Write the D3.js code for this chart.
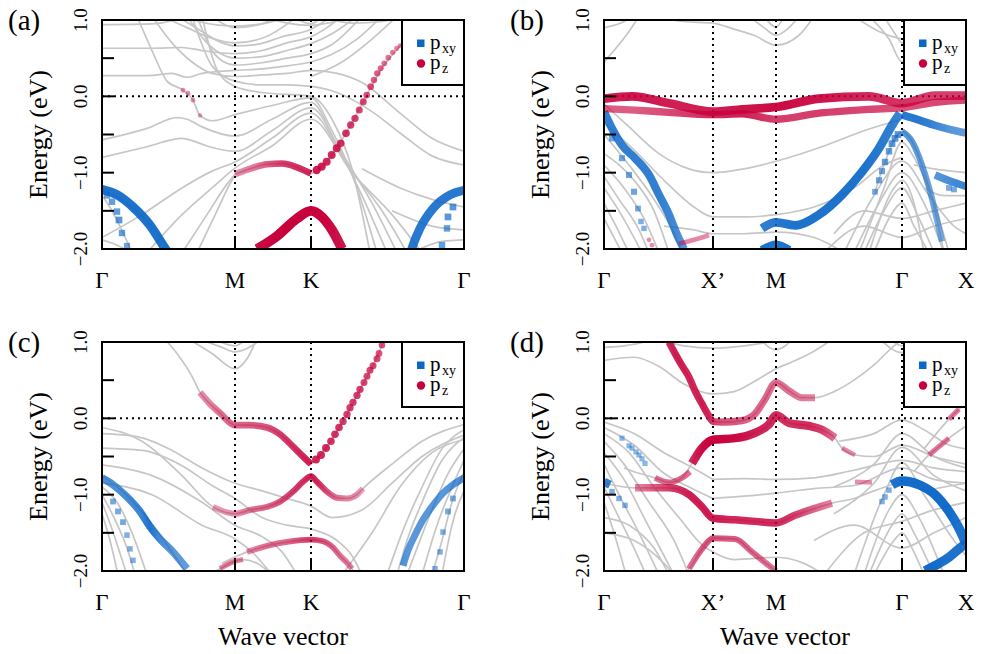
<!DOCTYPE html>
<html>
<head>
<meta charset="utf-8">
<script src="https://cdnjs.cloudflare.com/ajax/libs/d3/7.8.5/d3.min.js"></script>
<style>
  body { margin: 0; background: #fff; }
</style>
</head>
<body>
<div id="chart"></div>
<script>
(function () {

// ---- path ticks (path length, arbitrary units) ----
var hexTicks = [0, 1.33, 2.09, 3.62];
var hexNames = ["Γ", "M", "K", "Γ"];
var rectTicks = [0, 1.09, 1.72, 2.98, 3.62];
var rectNames = ["Γ", "X’", "M", "Γ", "X"];
var energyTicks = [1, 0.5, 0, -0.5, -1, -1.5, -2];
var energyLabels = { "1": "1.0", "0": "0.0", "-1": "−1.0", "-2": "−2.0" };

// ---- (a) ----
var greyA = [
  [[0,0.94],[0.5,0.95],[0.7,0.99],[0.8,1.05]],
  [[0.8,1.05],[1.0,0.97],[1.33,0.92],[1.6,0.95],[1.9,1.05]],
  [[1.6,1.05],[1.85,0.96],[2.09,0.93],[2.3,0.97],[2.5,1.05]],
  [[2.2,1.05],[2.5,0.96],[2.8,0.98],[3.0,1.05]],
  [[0.6,1.05],[0.85,0.9],[1.1,0.76],[1.33,0.70],[1.6,0.76],[1.8,0.9],[1.95,1.05]],
  [[0.75,1.05],[1.0,0.85],[1.2,0.7],[1.33,0.66],[1.55,0.68],[1.8,0.78],[2.09,0.88],[2.3,1.05]],
  [[0,0.63],[0.5,0.63],[0.8,0.64],[1.0,0.6],[1.33,0.56],[1.6,0.6],[1.85,0.7],[2.09,0.78],[2.25,0.9],[2.4,1.05]],
  [[0.85,1.05],[1.05,0.7],[1.2,0.55],[1.33,0.5],[1.6,0.52],[1.85,0.6],[2.09,0.69],[2.3,0.82],[2.55,1.05]],
  [[0.95,1.05],[1.1,0.6],[1.22,0.45],[1.33,0.41],[1.6,0.44],[1.85,0.5],[2.09,0.56],[2.3,0.68],[2.6,1.05]],
  [[0,0.27],[0.45,0.27],[0.7,0.3],[0.85,0.25],[1.0,0.3],[1.33,0.34],[1.6,0.36],[1.85,0.4],[2.09,0.45],[2.3,0.55],[2.55,0.75],[2.8,1.05]],
  [[0.5,1.05],[0.7,0.7],[0.9,0.45],[1.1,0.3],[1.33,0.26],[1.6,0.28],[1.85,0.3],[2.09,0.34],[2.35,0.3],[2.6,0.18],[2.98,-0.22],[3.3,-0.55],[3.62,-0.72]],
  [[0.35,1.05],[0.5,0.6],[0.65,0.2],[0.81,0.08],[0.91,-0.05],[0.98,-0.25],[1.1,-0.32],[1.33,-0.24],[1.7,-0.12],[2.09,-0.02],[2.3,-0.45],[2.55,-1.2],[2.75,-2.05]],
  [[0.9,1.05],[1.1,0.4],[1.33,0.2],[1.6,0.15],[1.85,0.15],[2.09,0.13],[2.35,0.05],[2.7,-0.2],[3.0,-0.5],[3.3,-0.78],[3.62,-0.9]],
  [[1.0,1.05],[1.15,0.35],[1.33,0.13],[1.6,0.05],[2.09,0.0],[2.3,-0.3],[2.5,-0.95],[2.68,-2.05]],
  [[1.1,1.05],[1.33,0.9],[1.6,0.95],[1.75,1.05]],
  [[1.9,1.05],[2.09,0.95],[2.2,1.05]],
  [[2.09,0.26],[2.4,0.45],[2.7,0.75],[2.95,1.05]],
  [[0,-0.57],[0.45,-0.42],[0.75,-0.28],[0.85,-0.3],[1.0,-0.4],[1.33,-0.52],[1.7,-0.3],[2.09,-0.08],[2.35,-0.65],[2.6,-1.3],[2.85,-2.05]],
  [[0,-0.8],[0.45,-0.66],[0.8,-0.55],[0.9,-0.58],[1.05,-0.65],[1.33,-0.72],[1.7,-0.45],[2.09,-0.15],[2.4,-0.75],[2.7,-1.4],[2.95,-2.05]],
  [[0,-1.85],[0.4,-1.55],[0.8,-1.2],[1.1,-0.98],[1.33,-0.86],[1.7,-0.55],[2.09,-0.22],[2.45,-0.9],[2.8,-1.5],[3.05,-2.05]],
  [[0.45,-2.05],[0.8,-1.55],[1.1,-1.2],[1.33,-0.94],[1.7,-0.65],[2.09,-0.3],[2.5,-1.0],[2.9,-1.55],[3.2,-2.05]],
  [[0.8,-2.05],[1.05,-1.55],[1.25,-1.15],[1.33,-1.02]],
  [[0.95,-2.05],[1.15,-1.5],[1.3,-1.1],[1.33,-1.04]],
  [[1.33,-1.02],[1.5,-0.94],[1.65,-0.89],[1.8,-0.88],[1.95,-0.93],[2.09,-1.01],[2.25,-0.85],[2.45,-0.46],[2.65,0.02],[2.8,0.37],[2.98,0.66],[3.2,1.05]],
  [[1.5,-2.1],[1.75,-1.85],[1.95,-1.6],[2.09,-1.5],[2.2,-1.58],[2.3,-1.75],[2.42,-2.05]],
  [[2.6,-0.95],[2.98,-1.2],[3.3,-1.35],[3.62,-1.45]],
  [[2.9,-1.5],[3.3,-1.7],[3.62,-1.75]],
  [[3.1,-2.05],[3.4,-1.9],[3.62,-1.88]],
  [[0,-1.22],[0.25,-1.4],[0.5,-1.7],[0.7,-2.05]],
  [[0,-1.3],[0.1,-1.5],[0.25,-1.9],[0.3,-2.05]],
  [[0,-1.88],[0.15,-1.95],[0.3,-2.05]]
];
var pzLinesA = [
  [[1.33,-1.02,0.3],[1.5,-0.94,0.4],[1.65,-0.89,0.55],[1.8,-0.88,0.7],[1.95,-0.93,0.75],[2.09,-1.01,0.8]],
  [[1.55,-2.0,0.95],[1.75,-1.83,1],[1.95,-1.6,1],[2.09,-1.5,1],[2.2,-1.58,1],[2.3,-1.75,0.95],[2.4,-2.0,0.9]]
];
var pzMarksA = [
  [2.147,-0.965,0.85],[2.197,-0.921,0.85],[2.247,-0.856,0.8],[2.297,-0.769,0.8],[2.347,-0.681,0.8],
  [2.387,-0.616,0.75],[2.44,-0.485,0.75],[2.487,-0.376,0.7],[2.53,-0.288,0.7],[2.573,-0.179,0.65],
  [2.613,-0.07,0.65],[2.647,0.017,0.6],[2.687,0.127,0.6],[2.72,0.214,0.55],[2.753,0.301,0.55],
  [2.787,0.367,0.5],[2.823,0.432,0.45],[2.863,0.507,0.45],[2.907,0.576,0.4],[2.947,0.629,0.35],[2.98,0.664,0.3],
  [0.81,0.08,0.3],[0.86,0.04,0.3],[0.91,-0.05,0.3],[0.98,-0.25,0.25]
];
var pxyLinesA = [
  [[0,-1.22,0.9],[0.15,-1.29,0.9],[0.31,-1.45,0.9],[0.48,-1.69,0.9],[0.61,-1.95,0.9],[0.65,-2.03,0.9]],
  [[3.09,-2.03,0.85],[3.11,-1.95,0.85],[3.18,-1.73,0.85],[3.31,-1.47,0.85],[3.48,-1.29,0.85],[3.62,-1.23,0.85]]
];
var pxyMarksA = [
  [0.05,-1.3,0.5],[0.1,-1.38,0.55],[0.15,-1.51,0.55],[0.17,-1.62,0.6],[0.2,-1.79,0.55],[0.25,-1.96,0.5],
  [3.51,-1.45,0.6],[3.46,-1.58,0.6],[3.45,-1.73,0.55],[3.40,-1.95,0.55]
];

// ---- (b) ----
var greyB = [
  [[0,0.45],[0.1,0.6],[0.25,0.85],[0.35,1.05]],
  [[0,0.9],[0.15,0.95],[0.3,1.05]],
  [[0.5,1.05],[0.8,0.98],[1.09,0.96],[1.3,0.88],[1.5,0.8],[1.72,0.67],[1.95,0.8],[2.1,1.05]],
  [[1.45,1.05],[1.6,0.9],[1.72,0.8],[1.85,0.9],[1.95,1.05]],
  [[1.6,1.05],[1.72,0.91],[1.8,1.05]],
  [[2.5,1.05],[2.75,0.85],[2.98,0.75],[3.2,0.72],[3.62,0.7]],
  [[2.65,1.05],[2.85,0.75],[2.98,0.45],[3.1,0.6],[3.3,0.85],[3.45,1.05]],
  [[2.8,1.05],[2.92,0.8],[2.98,0.7],[3.15,0.9],[3.3,1.05]],
  [[0,-0.1],[0.25,-0.4],[0.55,-0.75],[0.85,-0.95],[1.09,-1.0],[1.4,-0.95],[1.72,-0.85],[2.2,-0.65],[2.6,-0.45],[2.98,-0.3]],
  [[0,-0.35],[0.3,-0.7],[0.6,-1.1],[0.9,-1.45],[1.09,-1.58],[1.4,-1.58],[1.72,-1.55],[2.1,-1.45],[2.5,-1.2],[2.8,-0.9],[2.98,-0.8]],
  [[0.6,-1.7],[0.9,-1.75],[1.09,-1.8],[1.4,-1.8],[1.72,-1.78],[2.1,-1.85],[2.4,-2.05]],
  [[0,-0.9],[0.2,-1.2],[0.4,-1.6],[0.55,-2.05]],
  [[0,-1.05],[0.15,-1.35],[0.35,-1.75],[0.45,-2.05]],
  [[0,-1.2],[0.15,-1.5],[0.3,-1.85],[0.38,-2.05]],
  [[0,-1.4],[0.12,-1.7],[0.25,-2.05]],
  [[0,-1.6],[0.1,-1.85],[0.18,-2.05]],
  [[0,-0.75],[0.3,-1.1],[0.5,-1.5],[0.65,-2.05]],
  [[0,-0.5],[0.25,-0.9],[0.5,-1.35],[0.7,-1.8],[0.78,-2.05]],
  [[2.5,-2.05],[2.75,-1.4],[2.98,-1.0],[3.2,-1.4],[3.4,-2.05]],
  [[2.6,-2.05],[2.8,-1.5],[2.98,-1.2],[3.15,-1.6],[3.3,-2.05]],
  [[2.7,-2.05],[2.85,-1.6],[2.98,-1.4],[3.1,-1.7],[3.25,-2.05]],
  [[2.4,-2.05],[2.7,-1.3],[2.98,-0.85],[3.25,-1.3],[3.5,-1.7],[3.62,-1.8]],
  [[2.3,-1.8],[2.6,-1.5],[2.98,-1.6],[3.3,-1.5],[3.62,-1.4]],
  [[2.2,-2.05],[2.6,-1.7],[2.98,-1.85],[3.3,-1.7],[3.62,-1.6]],
  [[3.1,-0.9],[3.3,-0.95],[3.62,-1.0]],
  [[3.2,-1.2],[3.4,-1.3],[3.62,-1.3]],
  [[2.55,-2.05],[2.8,-1.2],[2.98,-0.6],[3.1,-0.8],[3.3,-1.4],[3.45,-2.05]],
  [[2.65,-2.05],[2.9,-1.2],[2.98,-1.1],[3.1,-1.4],[3.2,-2.05]],
  [[2.71,-1.25],[2.81,-0.86],[2.91,-0.55],[2.98,-0.46],[3.08,-0.59],[3.18,-0.9],[3.28,-1.34],[3.35,-1.73],[3.4,-2.05]]
];
var pzLinesB = [
  [[0,-0.03,0.85],[0.28,0.0,0.9],[0.65,-0.09,0.85],[1.09,-0.2,0.85],[1.38,-0.17,0.9],[1.72,-0.14,0.95],[2.15,-0.03,0.9],[2.65,0.0,0.8],[2.98,-0.09,0.75],[3.31,0.01,0.7],[3.62,0.01,0.7]],
  [[0,-0.16,0.55],[0.31,-0.18,0.55],[0.65,-0.21,0.65],[1.09,-0.24,0.8],[1.38,-0.23,0.85],[1.72,-0.3,0.7],[2.15,-0.22,0.7],[2.65,-0.17,0.65],[2.98,-0.15,0.6],[3.31,-0.08,0.65],[3.62,-0.05,0.65]],
  [[0.75,-1.93,0.35],[0.9,-1.88,0.35],[1.05,-1.82,0.3]]
];
var pzMarksB = [[0.45,-1.88,0.3],[0.48,-1.95,0.3]];
var pxyLinesB = [
  [[0,-0.2,0.8],[0.08,-0.42,0.8],[0.18,-0.64,0.8],[0.31,-0.81,0.8],[0.45,-1.03,0.8],[0.55,-1.29,0.8],[0.65,-1.55,0.75],[0.73,-1.81,0.7],[0.8,-2.0,0.6]],
  [[1.58,-1.73,0.8],[1.72,-1.65,0.85],[1.91,-1.69,0.9],[2.15,-1.55,0.9],[2.38,-1.29,0.9],[2.58,-0.99,0.9],[2.75,-0.68,0.85],[2.88,-0.38,0.8],[2.96,-0.22,0.75]],
  [[2.98,-0.24,0.85],[3.15,-0.31,0.85],[3.31,-0.38,0.75],[3.48,-0.44,0.6],[3.62,-0.48,0.55]],
  [[2.98,-0.46,0.6],[3.08,-0.59,0.6],[3.18,-0.9,0.55],[3.28,-1.34,0.5],[3.35,-1.73,0.45],[3.38,-1.9,0.45]],
  [[3.31,-1.03,0.6],[3.48,-1.12,0.7],[3.62,-1.18,0.75]],
  [[1.58,-2.02,0.9],[1.72,-1.95,0.9],[1.85,-2.02,0.9]]
];
var pxyMarksB = [
  [2.71,-1.25,0.45],[2.75,-1.1,0.5],[2.78,-0.98,0.5],[2.81,-0.86,0.55],[2.85,-0.72,0.55],[2.88,-0.62,0.6],[2.91,-0.55,0.6],[2.94,-0.5,0.6],
  [0.08,-0.55,0.5],[0.18,-0.81,0.5],[0.25,-1.03,0.5],[0.3,-1.25,0.5],[0.34,-1.47,0.45],[0.37,-1.64,0.4],[0.4,-1.73,0.4],
  [3.45,-1.2,0.45],[3.5,-1.22,0.45]
];

// ---- (c) ----
var greyC = [
  [[0.62,1.05],[0.75,0.85],[0.9,0.55],[0.98,0.34],[1.08,0.19],[1.18,0.07],[1.33,-0.09],[1.48,-0.09],[1.65,-0.12],[1.78,-0.21],[1.91,-0.37],[2.01,-0.5],[2.09,-0.6],[2.14,-0.54],[2.24,-0.39],[2.33,-0.21],[2.45,0.05],[2.58,0.38],[2.71,0.69],[2.8,0.96],[2.83,1.05]],
  [[0.85,1.05],[1.1,0.85],[1.33,0.65],[1.45,0.78],[1.55,1.05]],
  [[0.95,1.05],[1.2,0.93],[1.33,0.87],[1.5,0.95],[1.6,1.05]],
  [[1.1,1.05],[1.33,0.95],[1.45,1.05]],
  [[0,-0.12],[0.4,-0.3],[0.8,-0.75],[1.11,-1.16],[1.33,-1.25],[1.48,-1.2],[1.65,-1.16],[1.78,-1.09],[1.91,-0.96],[2.01,-0.83],[2.09,-0.76],[2.15,-0.83],[2.25,-0.96],[2.35,-1.04],[2.45,-1.05],[2.55,-1.0],[2.61,-0.92],[2.9,-0.6],[3.2,-0.3],[3.62,-0.08]],
  [[1.2,-1.9],[1.45,-1.75],[1.65,-1.67],[1.85,-1.62],[2.09,-1.59],[2.21,-1.61],[2.31,-1.69],[2.38,-1.8],[2.45,-1.89],[2.5,-1.97],[2.55,-2.05]],
  [[1.05,-2.05],[1.18,-1.97],[1.31,-1.88],[1.41,-1.85],[1.55,-1.9],[1.7,-2.05]],
  [[0,-0.2],[0.35,-0.24],[0.7,-0.42],[1.0,-0.65],[1.33,-0.85],[1.6,-0.95],[1.85,-1.05],[2.09,-1.15],[2.3,-1.3],[2.6,-1.2],[2.9,-0.85],[3.2,-0.5],[3.62,-0.22]],
  [[0,-0.39],[0.4,-0.42],[0.8,-0.62],[1.1,-0.88],[1.33,-1.05],[1.6,-1.3],[1.85,-1.4],[2.09,-1.45],[2.35,-1.6],[2.5,-1.8],[2.6,-2.05]],
  [[0,-0.61],[0.5,-0.75],[1.0,-1.1],[1.33,-1.4],[1.6,-1.55],[1.8,-1.75],[1.95,-2.05]],
  [[0,-0.85],[0.5,-1.0],[1.0,-1.4],[1.33,-1.58],[1.5,-1.75],[1.7,-2.05]],
  [[0,-0.9],[0.15,-1.1],[0.3,-1.5],[0.45,-2.05]],
  [[0,-1.0],[0.12,-1.3],[0.25,-1.7],[0.33,-2.05]],
  [[0,-1.1],[0.1,-1.45],[0.2,-1.85],[0.25,-2.05]],
  [[0,-1.25],[0.08,-1.6],[0.16,-2.05]],
  [[0,-0.75],[0.2,-0.95],[0.45,-1.3],[0.7,-1.75],[0.85,-2.05]],
  [[2.85,-2.05],[3.0,-1.5],[3.2,-0.9],[3.4,-0.4],[3.62,-0.15]],
  [[2.95,-2.05],[3.05,-1.6],[3.2,-1.1],[3.4,-0.55],[3.62,-0.25]],
  [[3.05,-2.05],[3.15,-1.7],[3.3,-1.2],[3.45,-0.75],[3.62,-0.4]],
  [[3.2,-2.05],[3.35,-1.4],[3.5,-0.9],[3.62,-0.55]],
  [[3.3,-2.05],[3.4,-1.6],[3.5,-1.1],[3.62,-0.7]],
  [[3.4,-2.05],[3.45,-1.7],[3.52,-1.3],[3.62,-0.95]],
  [[2.4,-2.05],[2.7,-1.5],[2.98,-0.9],[3.3,-0.45],[3.62,-0.28]]
];
var pzLinesC = [
  [[0.98,0.34,0.3],[1.08,0.19,0.35],[1.18,0.07,0.45],[1.33,-0.09,0.5],[1.48,-0.09,0.55],[1.65,-0.12,0.6],[1.78,-0.21,0.7],[1.91,-0.37,0.75],[2.01,-0.5,0.8],[2.09,-0.6,0.85]],
  [[1.11,-1.16,0.25],[1.33,-1.25,0.3],[1.48,-1.2,0.45],[1.65,-1.16,0.5],[1.78,-1.09,0.6],[1.91,-0.96,0.7],[2.01,-0.83,0.75],[2.09,-0.76,0.85],[2.15,-0.83,0.8],[2.25,-0.96,0.6],[2.35,-1.04,0.45],[2.45,-1.05,0.35],[2.55,-1.0,0.3],[2.61,-0.92,0.2]],
  [[1.45,-1.75,0.35],[1.65,-1.67,0.45],[1.85,-1.62,0.5],[2.09,-1.59,0.7],[2.21,-1.61,0.6],[2.31,-1.69,0.5],[2.38,-1.8,0.45],[2.45,-1.89,0.4],[2.5,-1.97,0.35]],
  [[1.18,-1.97,0.4],[1.31,-1.88,0.4],[1.41,-1.85,0.35]]
];
var pzMarksC = [
  [2.14,-0.54,0.8],[2.19,-0.48,0.8],[2.24,-0.39,0.8],[2.29,-0.30,0.75],[2.33,-0.21,0.75],[2.37,-0.12,0.75],
  [2.41,-0.04,0.7],[2.45,0.05,0.7],[2.48,0.14,0.7],[2.51,0.21,0.7],[2.55,0.30,0.7],[2.58,0.38,0.7],
  [2.62,0.47,0.65],[2.65,0.55,0.65],[2.68,0.63,0.65],[2.71,0.69,0.65],[2.75,0.78,0.65],[2.77,0.85,0.6],[2.80,0.96,0.6]
];
var pxyLinesC = [
  [[0,-0.78,0.65],[0.11,-0.87,0.65],[0.25,-1.03,0.7],[0.38,-1.22,0.75],[0.48,-1.42,0.9],[0.58,-1.58,0.7],[0.71,-1.75,0.6],[0.85,-1.97,0.55]],
  [[3.01,-1.93,0.65],[3.06,-1.73,0.6],[3.13,-1.53,0.6],[3.21,-1.33,0.6],[3.31,-1.14,0.6],[3.41,-0.98,0.6],[3.51,-0.87,0.65],[3.62,-0.78,0.65]]
];
var pxyMarksC = [
  [0.11,-1.09,0.45],[0.16,-1.22,0.45],[0.21,-1.36,0.45],[0.25,-1.53,0.4],[0.28,-1.71,0.4],[0.31,-1.86,0.4],
  [3.51,-1.05,0.45],[3.46,-1.22,0.45],[3.41,-1.49,0.4],[3.38,-1.75,0.4],[3.33,-1.97,0.4]
];

// ---- (d) ----
var greyD = [
  [[0,0.93],[0.2,0.95],[0.4,1.0],[0.5,1.05]],
  [[0,0.76],[0.3,0.8],[0.55,0.68],[0.8,0.45],[1.09,0.32],[1.3,0.35],[1.5,0.48],[1.72,0.65],[1.9,0.75],[2.1,0.88],[2.3,1.05]],
  [[0.5,1.05],[0.8,0.95],[1.09,0.92],[1.4,0.95],[1.72,1.02],[1.8,1.05]],
  [[1.55,1.05],[1.72,0.9],[1.9,1.05]],
  [[0.6,1.1],[0.65,1.0],[0.71,0.85],[0.78,0.69],[0.85,0.54],[0.91,0.36],[0.98,0.19],[1.05,0.03],[1.09,-0.04],[1.18,-0.05],[1.38,-0.03],[1.51,0.06],[1.61,0.25],[1.72,0.47],[1.85,0.36],[1.98,0.27],[2.11,0.27],[2.3,0.35],[2.5,0.5],[2.7,0.7],[2.9,0.95],[3.0,1.05]],
  [[0.2,-0.65],[0.35,-0.72],[0.51,-0.78],[0.65,-0.84],[0.78,-0.78],[0.88,-0.59],[0.98,-0.39],[1.09,-0.28],[1.31,-0.26],[1.51,-0.19],[1.65,-0.08],[1.72,0.04],[1.85,-0.06],[2.05,-0.1],[2.18,-0.15],[2.31,-0.26],[2.38,-0.39],[2.51,-0.48],[2.7,-0.5],[2.98,-0.35],[3.3,-0.5],[3.62,-0.6]],
  [[0,-0.85],[0.31,-0.91],[0.65,-0.91],[0.85,-1.0],[0.98,-1.16],[1.09,-1.31],[1.31,-1.33],[1.51,-1.35],[1.72,-1.37],[1.91,-1.27],[2.11,-1.18],[2.28,-1.11],[2.5,-1.05],[2.7,-0.95],[2.88,-0.87]],
  [[0.75,-2.05],[0.85,-1.97],[0.98,-1.71],[1.09,-1.57],[1.31,-1.58],[1.48,-1.75],[1.65,-1.93],[1.72,-2.0],[1.8,-2.05]],
  [[1.09,-0.8],[1.4,-0.79],[1.72,-0.8],[2.1,-0.78],[2.5,-0.68],[2.98,-0.55],[3.3,-0.65],[3.62,-0.7]],
  [[1.09,-1.05],[1.4,-1.02],[1.72,-0.98],[2.1,-0.92],[2.5,-0.88],[2.98,-0.65],[3.3,-0.8],[3.62,-0.85]],
  [[0,-0.05],[0.3,-0.2],[0.6,-0.45],[0.85,-0.62],[1.09,-0.8]],
  [[0,-0.12],[0.3,-0.35],[0.6,-0.72],[0.85,-0.9],[1.09,-1.05]],
  [[0,-0.2],[0.25,-0.45],[0.5,-0.9],[0.75,-1.3],[1.0,-1.68],[1.09,-1.75],[1.3,-1.85],[1.72,-1.82],[2.0,-1.9],[2.2,-2.05]],
  [[0,-0.3],[0.2,-0.6],[0.45,-1.1],[0.7,-1.6],[0.85,-2.05]],
  [[0,-0.45],[0.2,-0.8],[0.4,-1.3],[0.6,-1.8],[0.7,-2.05]],
  [[0,-0.6],[0.15,-1.0],[0.35,-1.5],[0.55,-2.05]],
  [[0,-0.9],[0.15,-1.3],[0.3,-1.7],[0.42,-2.05]],
  [[0,-1.1],[0.1,-1.5],[0.22,-2.05]],
  [[0,-1.3],[0.25,-1.4],[0.5,-1.7],[0.65,-2.05]],
  [[0,-1.5],[0.3,-1.6],[0.6,-1.9],[0.7,-2.05]],
  [[2.35,-0.3],[2.7,-0.2],[2.98,-0.02],[3.2,-0.15],[3.45,-0.35],[3.62,-0.4]],
  [[2.3,-0.9],[2.7,-0.6],[2.98,-0.2],[3.3,-0.5],[3.62,-0.65]],
  [[2.3,-1.25],[2.7,-0.85],[2.98,-0.38],[3.3,-0.75],[3.62,-0.95]],
  [[2.5,-2.05],[2.8,-1.0],[2.98,-0.58],[3.2,-1.0],[3.5,-1.6],[3.62,-1.8]],
  [[2.6,-2.05],[2.85,-1.2],[2.98,-1.0],[3.15,-1.3],[3.4,-2.05]],
  [[2.65,-2.05],[2.88,-1.4],[2.98,-1.25],[3.1,-1.5],[3.3,-2.05]],
  [[2.7,-2.05],[2.9,-1.6],[2.98,-1.5],[3.08,-1.7],[3.2,-2.05]],
  [[2.2,-2.05],[2.6,-1.5],[2.98,-1.35],[3.3,-1.2],[3.62,-1.1]],
  [[2.1,-1.6],[2.5,-1.4],[2.98,-1.7],[3.3,-1.5],[3.62,-1.3]],
  [[3.2,-0.95],[3.4,-0.9],[3.62,-0.85]],
  [[2.75,1.05],[2.98,0.86],[3.2,1.05]],
  [[2.85,1.05],[2.98,0.95],[3.1,1.05]],
  [[3.1,-0.7],[3.25,-0.48],[3.35,-0.37],[3.45,-0.26],[3.62,-0.1]],
  [[3.2,-0.4],[3.45,-0.01],[3.55,0.12],[3.62,0.2]]
];
var pzLinesD = [
  [[0.65,1.0,0.8],[0.71,0.85,0.85],[0.78,0.69,0.85],[0.85,0.54,0.8],[0.91,0.36,0.8],[0.98,0.19,0.85],[1.05,0.03,0.8],[1.09,-0.04,0.7],[1.18,-0.05,0.6],[1.38,-0.03,0.55],[1.51,0.06,0.5],[1.61,0.25,0.5],[1.72,0.47,0.45],[1.85,0.36,0.45],[1.98,0.27,0.4],[2.11,0.27,0.35]],
  [[0.88,-0.59,0.8],[0.98,-0.39,0.95],[1.09,-0.28,1],[1.31,-0.26,0.95],[1.51,-0.19,0.85],[1.65,-0.08,0.8],[1.72,0.04,0.8],[1.85,-0.06,0.75],[2.05,-0.1,0.8],[2.18,-0.15,0.7],[2.31,-0.26,0.45]],
  [[0.51,-0.78,0.45],[0.65,-0.84,0.5],[0.78,-0.78,0.5],[0.86,-0.7,0.45]],
  [[0.31,-0.91,0.35],[0.65,-0.91,0.7],[0.85,-1.0,0.85],[0.98,-1.16,0.85],[1.09,-1.31,0.85],[1.31,-1.33,0.8],[1.51,-1.35,0.8],[1.72,-1.37,0.8],[1.91,-1.27,0.7],[2.11,-1.18,0.5],[2.28,-1.11,0.35]],
  [[0.85,-1.97,0.45],[0.98,-1.71,0.55],[1.09,-1.57,0.6],[1.31,-1.58,0.55],[1.48,-1.75,0.5],[1.65,-1.93,0.45],[1.72,-2.0,0.45]],
  [[2.38,-0.39,0.35],[2.51,-0.48,0.3]],
  [[2.51,-0.83,0.3],[2.68,-0.84,0.3]],
  [[3.25,-0.48,0.4],[3.35,-0.37,0.4],[3.45,-0.26,0.4]],
  [[3.45,-0.01,0.4],[3.55,0.12,0.4]]
];
var pzMarksD = [];
var pxyLinesD = [
  [[2.88,-0.87,0.9],[2.98,-0.82,0.95],[3.15,-0.87,0.95],[3.31,-1.0,0.95],[3.45,-1.22,0.95],[3.55,-1.44,0.9],[3.62,-1.64,0.9]],
  [[3.21,-2.0,0.95],[3.31,-1.93,0.95],[3.45,-1.82,0.9],[3.55,-1.71,0.9],[3.62,-1.64,0.9]],
  [[0,-0.83,0.8],[0.06,-0.87,0.8]]
];
var pxyMarksD = [
  [2.85,-0.94,0.4],[2.81,-1.03,0.4],[2.78,-1.09,0.4],
  [0.08,-0.96,0.4],[0.15,-1.05,0.4],[0.21,-1.14,0.4],
  [0.18,-0.26,0.35],[0.25,-0.36,0.35],[0.28,-0.39,0.35],[0.32,-0.44,0.35],[0.35,-0.48,0.35],[0.38,-0.53,0.35],[0.41,-0.59,0.35]
];

var panels = [
  { label: "(a)", col: 0, row: 0, ticks: hexTicks, names: hexNames, grey: greyA, pzL: pzLinesA, pzM: pzMarksA, pxyL: pxyLinesA, pxyM: pxyMarksA },
  { label: "(b)", col: 1, row: 0, ticks: rectTicks, names: rectNames, grey: greyB, pzL: pzLinesB, pzM: pzMarksB, pxyL: pxyLinesB, pxyM: pxyMarksB },
  { label: "(c)", col: 0, row: 1, ticks: hexTicks, names: hexNames, grey: greyC, pzL: pzLinesC, pzM: pzMarksC, pxyL: pxyLinesC, pxyM: pxyMarksC },
  { label: "(d)", col: 1, row: 1, ticks: rectTicks, names: rectNames, grey: greyD, pzL: pzLinesD, pzM: pzMarksD, pxyL: pxyLinesD, pxyM: pxyMarksD }
];

var blue = "#0a66c8", red = "#c8003c", grey = "#c6c6c6";
var colX = [102, 604], rowY = [20, 342];
var width = 362, height = 229;

var svg = d3.select("#chart").append("svg")
    .attr("width", 982).attr("height", 654);

// every label goes through here so the serif face sits on the element itself
function label(parent, size) {
  return parent.append("text")
    .style("font-family", "'Liberation Serif'")
    .style("font-size", size + "px");
}

var op = d3.scaleLinear().domain([0, 1]).range([0.2, 1]);
var thick = d3.scaleLinear().domain([0, 1]).range([2, 10]);
var rad = d3.scaleLinear().domain([0, 1]).range([1.5, 4.6]);

panels.forEach(function (p, i) {
  var x = d3.scaleLinear().domain([0, 3.62]).range([0, width]);
  var y = d3.scaleLinear().domain([-2, 1]).range([height, 0]);

  var g = svg.append("g")
      .attr("transform", "translate(" + colX[p.col] + "," + rowY[p.row] + ")");

  var defs = g.append("defs");
  defs.append("clipPath").attr("id", "clip" + i)
    .append("rect").attr("width", width).attr("height", height);

  var plot = g.append("g").attr("clip-path", "url(#clip" + i + ")");

  var line = d3.line()
      .x(function (d) { return x(d[0]); })
      .y(function (d) { return y(d[1]); })
      .curve(d3.curveMonotoneX);

  // grey bands
  plot.append("g").selectAll("path")
    .data(p.grey)
    .enter().append("path")
    .attr("d", function (d) { return line(d.slice().sort(function (a, b) { return a[0] - b[0]; })); })
    .attr("fill", "none")
    .attr("stroke", grey)
    .attr("stroke-width", 1.7);

  // dotted guides
  p.ticks.slice(1, -1).forEach(function (t) {
    plot.append("line")
      .attr("x1", x(t)).attr("x2", x(t)).attr("y1", 0).attr("y2", height)
      .attr("stroke", "#000").attr("stroke-width", 2).attr("stroke-dasharray", "2,4");
  });
  plot.append("line")
    .attr("x1", 0).attr("x2", width).attr("y1", y(0)).attr("y2", y(0))
    .attr("stroke", "#000").attr("stroke-width", 2).attr("stroke-dasharray", "2,4");

  function ribbons(list, color, tag) {
    list.forEach(function (pts, j) {
      var s = pts.slice().sort(function (a, b) { return a[0] - b[0]; });
      var k0 = s[0][0], k1 = s[s.length - 1][0];
      var id = "gr" + i + tag + j;
      var grad = defs.append("linearGradient").attr("id", id)
          .attr("gradientUnits", "userSpaceOnUse")
          .attr("x1", x(k0)).attr("x2", x(k1)).attr("y1", 0).attr("y2", 0);
      s.forEach(function (d) {
        grad.append("stop")
          .attr("offset", (d[0] - k0) / (k1 - k0))
          .attr("stop-color", color)
          .attr("stop-opacity", op(d[2]));
      });
      plot.append("path")
        .attr("d", line(s))
        .attr("fill", "none")
        .attr("stroke", "url(#" + id + ")")
        .attr("stroke-width", thick(d3.mean(s, function (d) { return d[2]; })));
    });
  }

  ribbons(p.pxyL, blue, "b");
  plot.append("g").selectAll("rect")
    .data(p.pxyM)
    .enter().append("rect")
    .attr("x", function (d) { return x(d[0]) - rad(d[2]); })
    .attr("y", function (d) { return y(d[1]) - rad(d[2]); })
    .attr("width", function (d) { return 2 * rad(d[2]); })
    .attr("height", function (d) { return 2 * rad(d[2]); })
    .attr("fill", blue)
    .attr("fill-opacity", function (d) { return op(d[2]); });

  ribbons(p.pzL, red, "r");
  plot.append("g").selectAll("circle")
    .data(p.pzM)
    .enter().append("circle")
    .attr("cx", function (d) { return x(d[0]); })
    .attr("cy", function (d) { return y(d[1]); })
    .attr("r", function (d) { return rad(d[2]); })
    .attr("fill", red)
    .attr("fill-opacity", function (d) { return op(d[2]); });

  // ticks
  energyTicks.forEach(function (t) {
    g.append("line")
      .attr("x1", 0).attr("x2", 12).attr("y1", y(t)).attr("y2", y(t))
      .attr("stroke", "#000").attr("stroke-width", 2);
    if (energyLabels[t] !== undefined) {
      label(g, 19)
        .attr("transform", "translate(-15," + y(t) + ") rotate(-90)")
        .attr("text-anchor", "middle")
        .text(energyLabels[t]);
    }
  });
  p.ticks.forEach(function (t, k) {
    if (k > 0 && k < p.ticks.length - 1) {
      g.append("line")
        .attr("x1", x(t)).attr("x2", x(t)).attr("y1", height).attr("y2", height - 11)
        .attr("stroke", "#000").attr("stroke-width", 2);
    }
    label(g, 23)
      .attr("x", x(t)).attr("y", height + 39)
      .attr("text-anchor", "middle")
      .text(p.names[k]);
  });

  label(g, 26)
    .attr("transform", "translate(-55," + height / 2 + ") rotate(-90)")
    .attr("text-anchor", "middle")
    .text("Energy (eV)");

  label(g, 29)
    .attr("x", -94).attr("y", 10)
    .text(p.label);

  if (p.row === 1) {
    label(g, 26)
      .attr("x", width / 2).attr("y", 645 - rowY[1])
      .attr("text-anchor", "middle")
      .text("Wave vector");
  }

  // legend
  var lg = g.append("g").attr("transform", "translate(" + (width - 62) + ",0)");
  lg.append("rect").attr("width", 62).attr("height", 65)
    .attr("fill", "#fff").attr("stroke", "#000").attr("stroke-width", 2);
  lg.append("rect").attr("x", 15).attr("y", 19.5).attr("width", 7.5).attr("height", 7.5).attr("fill", blue);
  lg.append("circle").attr("cx", 19).attr("cy", 43.5).attr("r", 4.2).attr("fill", red);
  label(lg, 21).attr("x", 28).attr("y", 29).text("p");
  label(lg, 14).attr("x", 40).attr("y", 33).text("xy");
  label(lg, 21).attr("x", 28).attr("y", 49).text("p");
  label(lg, 14).attr("x", 40).attr("y", 53).text("z");

  // frame
  g.append("rect").attr("width", width).attr("height", height)
    .attr("fill", "none").attr("stroke", "#000").attr("stroke-width", 2);
});

})();
</script>
</body>
</html>
